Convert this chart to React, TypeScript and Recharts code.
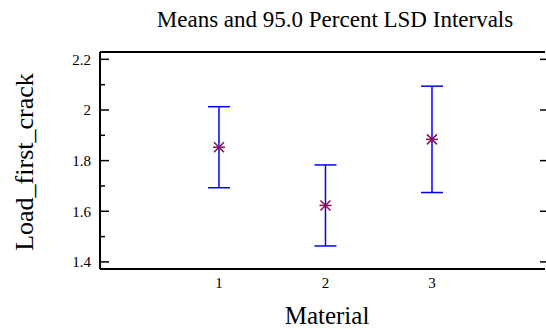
import React from 'react';
import { ComposedChart, Scatter, XAxis, YAxis, ErrorBar } from 'recharts';

const materials = [1, 2, 3];
const means = [1.853, 1.623, 1.884];
const lsdHalfWidths = [0.16, 0.16, 0.21];
const yTicks = [1.4, 1.5, 1.6, 1.7, 1.8, 1.9, 2.0, 2.1, 2.2];
const yMajorTicks = [1.4, 1.6, 1.8, 2.0, 2.2];
const xTicks = [1, 2, 3];
const title = 'Means and 95.0 Percent LSD Intervals';
const xLabel = 'Material';
const yLabel = 'Load_first_crack';

const data = materials.map((m, i) => ({ x: m, y: means[i], err: lsdHalfWidths[i] }));

const FONT = '"Liberation Serif", "Times New Roman", serif';
const X_DOMAIN = [-0.117, 4.061];
const Y_DOMAIN = [1.372, 2.229];

const LeftTick = (props: any) => {
  const { x, y, payload } = props;
  const v = payload.value;
  const major = Math.round(v * 10) % 2 === 0;
  return (
    <g>
      <line x1={x} x2={x + (major ? 9 : 5)} y1={y} y2={y} stroke="#000" strokeWidth={1.5} />
      {major && (
        <text x={x - 9} y={y} dy="0.35em" textAnchor="end" fontFamily={FONT} style={{ fontFamily: FONT }} fontSize={15} fill="#000">
          {String(v)}
        </text>
      )}
    </g>
  );
};

const RightTick = (props: any) => {
  const { x, y } = props;
  return <line x1={x - 5} x2={x + 1} y1={y} y2={y} stroke="#000" strokeWidth={1.5} />;
};

const BottomTick = (props: any) => {
  const { x, y, payload } = props;
  return (
    <text x={x} y={y + 19} textAnchor="middle" fontFamily={FONT} style={{ fontFamily: FONT }} fontSize={15} fill="#000">
      {String(payload.value)}
    </text>
  );
};

const Star = (props: any) => {
  const { cx, cy } = props;
  const c = '#8B1050';
  return (
    <g stroke={c} strokeWidth={1.5}>
      <line x1={cx - 5} y1={cy - 5} x2={cx + 5} y2={cy + 5} />
      <line x1={cx - 5} y1={cy + 5} x2={cx + 5} y2={cy - 5} />
      <line x1={cx - 6} y1={cy} x2={cx + 6} y2={cy} />
    </g>
  );
};

export default function App() {
  return (
    <div style={{ position: 'absolute', left: 0, top: 0, width: 546, height: 329, background: '#fff' }}>
      <ComposedChart width={546} height={329} data={data} margin={{ top: 51, right: 0, bottom: 0, left: 0 }}>
        <XAxis
          xAxisId="b"
          type="number"
          dataKey="x"
          domain={X_DOMAIN}
          ticks={xTicks}
          interval={0}
          height={60}
          allowDataOverflow
          axisLine={{ stroke: '#000', strokeWidth: 2 }}
          tickLine={false}
          tickSize={0}
          tickMargin={0}
          tick={<BottomTick />}
        />
        <XAxis
          xAxisId="t"
          orientation="top"
          type="number"
          domain={X_DOMAIN}
          height={1}
          allowDataOverflow
          axisLine={{ stroke: '#000', strokeWidth: 2 }}
          tickLine={false}
          tick={false}
        />
        <YAxis
          yAxisId="l"
          type="number"
          domain={Y_DOMAIN}
          ticks={yTicks}
          interval={0}
          width={100}
          allowDataOverflow
          axisLine={{ stroke: '#000', strokeWidth: 2 }}
          tickLine={false}
          tickSize={0}
          tickMargin={0}
          tick={<LeftTick />}
        />
        <YAxis
          yAxisId="r"
          orientation="right"
          type="number"
          domain={Y_DOMAIN}
          ticks={yMajorTicks}
          interval={0}
          width={1}
          allowDataOverflow
          axisLine={false}
          tickLine={false}
          tickSize={0}
          tickMargin={0}
          tick={<RightTick />}
        />
        <Scatter xAxisId="b" yAxisId="l" dataKey="y" isAnimationActive={false} shape={<Star />}>
          <ErrorBar dataKey="err" direction="y" width={11} stroke="#0000FF" strokeWidth={1.5} isAnimationActive={false} />
        </Scatter>
      </ComposedChart>
      <svg width={546} height={329} style={{ position: 'absolute', left: 0, top: 0, pointerEvents: 'none' }}>
        <text x={335} y={27} textAnchor="middle" style={{ fontFamily: FONT }} fontSize={23} fill="#000">{title}</text>
        <text x={327} y={324} textAnchor="middle" style={{ fontFamily: FONT }} fontSize={25} fill="#000">{xLabel}</text>
        <text x={33} y={162} textAnchor="middle" style={{ fontFamily: FONT }} fontSize={26} fill="#000" transform="rotate(-90, 33, 162)">{yLabel}</text>
      </svg>
    </div>
  );
}
